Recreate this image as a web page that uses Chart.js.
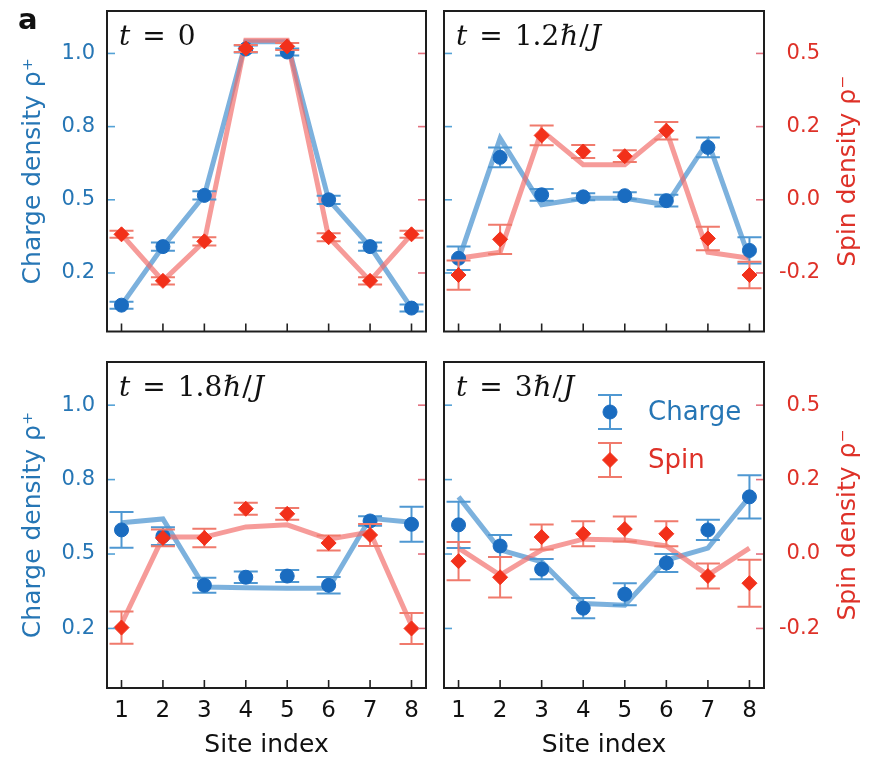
<!DOCTYPE html>
<html><head><meta charset="utf-8">
<script src="https://cdn.jsdelivr.net/npm/chart.js@4.4.0/dist/chart.umd.min.js"></script>
<style>
html,body{margin:0;padding:0;background:#fff;}
#wrap{position:relative;width:869px;height:762px;overflow:hidden;background:#fff;}
canvas{position:absolute;}
</style></head><body>
<div id="wrap">
<canvas id="c1" width="435" height="340" style="left:0;top:0"></canvas>
<canvas id="c2" width="434" height="340" style="left:435px;top:0"></canvas>
<canvas id="c3" width="435" height="422" style="left:0;top:340px"></canvas>
<canvas id="c4" width="434" height="422" style="left:435px;top:340px"></canvas>
</div>
<script>
// ---------- data ----------
const sites = [1, 2, 3, 4, 5, 6, 7, 8];
const chargeTicks = [0.25, 0.5, 0.75, 1.0];
const chargeTickLabels = ['0.2', '0.5', '0.8', '1.0'];
const spinTicks = [-0.25, 0, 0.25, 0.5];
const spinTickLabels = ['-0.2', '0.0', '0.2', '0.5'];
const panelTimes = ['0', '1.2', '1.8', '3'];

// t = 0
const charge0    = [0.14, 0.34, 0.515, 1.015, 1.005, 0.50, 0.34, 0.13];
const chargeErr0 = [0.012, 0.014, 0.014, 0.012, 0.012, 0.014, 0.014, 0.012];
const chargeTh0  = [0.14, 0.34, 0.515, 1.04, 1.04, 0.50, 0.34, 0.13];
const spin0      = [-0.118, -0.277, -0.142, 0.517, 0.524, -0.128, -0.277, -0.118];
const spinErr0   = [0.012, 0.012, 0.014, 0.012, 0.012, 0.014, 0.012, 0.012];
const spinTh0    = [-0.118, -0.277, -0.142, 0.545, 0.545, -0.128, -0.277, -0.118];

// t = 1.2 hbar/J
const charge1    = [0.30, 0.645, 0.517, 0.51, 0.514, 0.497, 0.679, 0.327];
const chargeErr1 = [0.04, 0.034, 0.02, 0.012, 0.012, 0.02, 0.034, 0.045];
const chargeTh1  = [0.294, 0.71, 0.483, 0.505, 0.505, 0.483, 0.70, 0.30];
const spin1      = [-0.257, -0.135, 0.22, 0.165, 0.149, 0.236, -0.132, -0.257];
const spinErr1   = [0.05, 0.05, 0.034, 0.022, 0.02, 0.03, 0.04, 0.045];
const spinTh1    = [-0.20, -0.179, 0.237, 0.12, 0.12, 0.237, -0.179, -0.20];

// t = 1.8 hbar/J
const charge2    = [0.581, 0.56, 0.395, 0.422, 0.426, 0.395, 0.611, 0.60];
const chargeErr2 = [0.06, 0.03, 0.025, 0.019, 0.02, 0.028, 0.016, 0.059];
const chargeTh2  = [0.605, 0.618, 0.389, 0.387, 0.385, 0.385, 0.62, 0.607];
const spin2      = [-0.247, 0.054, 0.054, 0.152, 0.135, 0.037, 0.064, -0.25];
const spinErr2   = [0.054, 0.028, 0.031, 0.02, 0.02, 0.025, 0.037, 0.052];
const spinTh2    = [-0.235, 0.057, 0.057, 0.091, 0.098, 0.05, 0.074, -0.24];

// t = 3 hbar/J
const charge3    = [0.598, 0.527, 0.449, 0.318, 0.365, 0.47, 0.581, 0.692];
const chargeErr3 = [0.078, 0.037, 0.034, 0.034, 0.037, 0.03, 0.034, 0.073];
const chargeTh3  = [0.692, 0.514, 0.474, 0.334, 0.328, 0.48, 0.52, 0.692];
const spin3      = [-0.024, -0.078, 0.057, 0.068, 0.084, 0.068, -0.074, -0.098];
const spinErr3   = [0.064, 0.068, 0.042, 0.042, 0.042, 0.042, 0.042, 0.079];
const spinTh3    = [0.02, -0.071, 0.014, 0.05, 0.047, 0.027, -0.071, 0.02];

// ---------- style ----------
const SANS = '"DejaVu Sans", "Noto Sans", sans-serif';
const SERIF = '"DejaVu Serif", "Liberation Serif", serif';
const BLUE_TXT = '#2676b5', BLUE_MK = '#1a6cc0', BLUE_ERR = '#4f98d2', BLUE_LINE = 'rgba(62,140,205,0.68)', BLUE_TICK = '#55a2d6';
const RED_TXT = '#de3128', RED_MK = '#f2301a', RED_ERR = '#f07a6c', RED_LINE = 'rgba(242,108,104,0.68)', RED_TICK = '#e2707e';

const pts = arr => arr.map((v, i) => ({x: sites[i], y: v}));

const errorBarPlugin = {
  id: 'errbars',
  beforeDatasetDraw(chart, args) {
    const ds = chart.data.datasets[args.index];
    if (!ds.errors) return;
    const ys = chart.scales[ds.yAxisID], xs = chart.scales.x, ctx = chart.ctx;
    ctx.save();
    ctx.strokeStyle = ds.errorColor; ctx.lineWidth = 2;
    ds.data.forEach((d, i) => {
      const x = xs.getPixelForValue(d.x);
      const y1 = ys.getPixelForValue(d.y - ds.errors[i]);
      const y2 = ys.getPixelForValue(d.y + ds.errors[i]);
      ctx.beginPath();
      ctx.moveTo(x, y1); ctx.lineTo(x, y2);
      ctx.moveTo(x - 12, y1); ctx.lineTo(x + 12, y1);
      ctx.moveTo(x - 12, y2); ctx.lineTo(x + 12, y2);
      ctx.stroke();
    });
    ctx.restore();
  }
};

function drawSegments(ctx, segs, x, y) {
  segs.forEach(s => {
    ctx.font = s[1] + ' 28px ' + SERIF;
    ctx.fillText(s[0], x, y);
    x += ctx.measureText(s[0]).width + (s[2] || 0);
  });
}

const decorPlugin = {
  id: 'decor',
  afterDraw(chart, args, o) {
    const ctx = chart.ctx, a = chart.chartArea;
    ctx.save();
    // inner ticks
    ctx.lineWidth = 1.6;
    ctx.strokeStyle = BLUE_TICK;
    chart.scales.yC.ticks.forEach(t => {
      const y = chart.scales.yC.getPixelForValue(t.value);
      ctx.beginPath(); ctx.moveTo(a.left, y); ctx.lineTo(a.left + 8, y); ctx.stroke();
    });
    ctx.strokeStyle = RED_TICK;
    chart.scales.yS.ticks.forEach(t => {
      const y = chart.scales.yS.getPixelForValue(t.value);
      ctx.beginPath(); ctx.moveTo(a.right - 8, y); ctx.lineTo(a.right, y); ctx.stroke();
    });
    ctx.strokeStyle = '#222';
    chart.scales.x.ticks.forEach(t => {
      const x = chart.scales.x.getPixelForValue(t.value);
      ctx.beginPath(); ctx.moveTo(x, a.bottom - 8); ctx.lineTo(x, a.bottom); ctx.stroke();
    });
    // frame
    ctx.lineWidth = 2; ctx.strokeStyle = '#1e1e1e';
    ctx.strokeRect(a.left, a.top, a.right - a.left, a.bottom - a.top);
    // panel title
    ctx.fillStyle = '#111'; ctx.textBaseline = 'alphabetic'; ctx.textAlign = 'left';
    const segs = o.time === '0'
      ? [['t', 'italic', 12], ['=', 'normal', 12], ['0', 'normal']]
      : [['t', 'italic', 12], ['=', 'normal', 12], [o.time, 'normal', 1], ['ℏ', 'italic', 1], ['/', 'normal', 1], ['J', 'italic']];
    drawSegments(ctx, segs, a.left + 12, a.top + 34);
    // panel letter
    if (o.letter) {
      ctx.font = 'bold 29px ' + SANS; ctx.fillStyle = '#111';
      ctx.fillText(o.letter, 18, 29);
    }
    // right axis title (reads bottom to top)
    if (o.rightTitle) {
      ctx.save();
      ctx.translate(a.right + 84, (a.top + a.bottom) / 2);
      ctx.rotate(-Math.PI / 2);
      ctx.font = '25px ' + SANS; ctx.fillStyle = RED_TXT;
      ctx.textAlign = 'center'; ctx.textBaseline = 'middle';
      ctx.fillText('Spin density ρ⁻', 0, 0);
      ctx.restore();
    }
    // legend
    if (o.legend) {
      const lx = a.left + 166, tx = a.left + 204;
      const items = [[a.top + 50, BLUE_ERR, BLUE_MK, BLUE_TXT, 'circle', 'Charge'],
                     [a.top + 98, RED_ERR, RED_MK, RED_TXT, 'rectRot', 'Spin']];
      items.forEach(it => {
        const [y, ec, mc, tc, st, label] = it;
        ctx.strokeStyle = ec; ctx.lineWidth = 2;
        ctx.beginPath();
        ctx.moveTo(lx, y - 17); ctx.lineTo(lx, y + 17);
        ctx.moveTo(lx - 12, y - 17); ctx.lineTo(lx + 12, y - 17);
        ctx.moveTo(lx - 12, y + 17); ctx.lineTo(lx + 12, y + 17);
        ctx.stroke();
        ctx.fillStyle = mc; ctx.strokeStyle = mc; ctx.lineWidth = 1;
        Chart.helpers.drawPoint(ctx, {pointStyle: st, radius: st === 'circle' ? 7 : 7.5, borderWidth: 1}, lx, y);
        ctx.fillStyle = tc; ctx.font = '26px ' + SANS; ctx.textBaseline = 'middle'; ctx.textAlign = 'left';
        ctx.fillText(label, tx, y + 1);
      });
    }
    ctx.restore();
  }
};

const zeroPad = s => { s.paddingTop = 0; s.paddingBottom = 0; s.paddingLeft = 0; s.paddingRight = 0; };

function makeChart(id, p) {
  return new Chart(document.getElementById(id), {
    type: 'line',
    data: {datasets: [
      {label: 'Spin', data: pts(p.spin), yAxisID: 'yS', showLine: false, order: 0,
       pointStyle: 'rectRot', pointRadius: 7.5, pointBackgroundColor: RED_MK, pointBorderColor: RED_MK, pointBorderWidth: 1,
       borderColor: RED_MK, backgroundColor: RED_MK, errors: p.spinErr, errorColor: RED_ERR},
      {label: 'Charge', data: pts(p.charge), yAxisID: 'yC', showLine: false, order: 1,
       pointStyle: 'circle', pointRadius: 7, pointBackgroundColor: BLUE_MK, pointBorderColor: BLUE_MK, pointBorderWidth: 1,
       borderColor: BLUE_MK, backgroundColor: BLUE_MK, errors: p.chargeErr, errorColor: BLUE_ERR},
      {label: 'Spin theory', data: pts(p.spinTh), yAxisID: 'yS', order: 2,
       borderColor: RED_LINE, borderWidth: 5, pointRadius: 0, tension: 0, fill: false},
      {label: 'Charge theory', data: pts(p.chargeTh), yAxisID: 'yC', order: 3,
       borderColor: BLUE_LINE, borderWidth: 5, pointRadius: 0, tension: 0, fill: false}
    ]},
    options: {
      responsive: false, animation: false, devicePixelRatio: 1,
      layout: {padding: {top: p.padTop, right: p.padRight, left: 0, bottom: 0}},
      events: [],
      plugins: {
        legend: {display: false}, tooltip: {enabled: false},
        decor: {time: p.time, letter: p.letter || '', rightTitle: p.right, legend: !!p.legend}
      },
      scales: {
        x: {
          type: 'linear', min: 0.65, max: 8.35,
          afterBuildTicks: s => { s.ticks = sites.map(v => ({value: v})); },
          afterFit: s => { s.height = p.bottom ? 74 : 5; zeroPad(s); },
          grid: {display: false, drawTicks: false}, border: {display: false},
          ticks: {display: p.bottom, color: '#111', padding: 9, font: {family: SANS, size: 23}, callback: v => String(v)},
          title: {display: p.bottom, text: 'Site index', color: '#111', font: {family: SANS, size: 25}, padding: {top: 0, bottom: 2}}
        },
        yC: {
          type: 'linear', position: 'left', min: 0.05, max: 1.145,
          afterBuildTicks: s => { s.ticks = chargeTicks.map(v => ({value: v})); },
          afterFit: s => { s.width = p.left ? 107 : 9; zeroPad(s); },
          grid: {display: false, drawTicks: false}, border: {display: false},
          ticks: {display: p.left, color: BLUE_TXT, padding: 12, font: {family: SANS, size: 21},
                  callback: v => chargeTickLabels[chargeTicks.indexOf(v)]},
          title: {display: p.left, text: 'Charge density ρ⁺', color: BLUE_TXT, font: {family: SANS, size: 25}, padding: {top: 18, bottom: 0}}
        },
        yS: {
          type: 'linear', position: 'right', min: -0.45, max: 0.645,
          afterBuildTicks: s => { s.ticks = spinTicks.map(v => ({value: v})); },
          afterFit: s => { s.width = p.right ? 56 : 9; zeroPad(s); },
          grid: {display: false, drawTicks: false}, border: {display: false},
          ticks: {display: p.right, color: RED_TXT, padding: 12, crossAlign: 'far', font: {family: SANS, size: 21},
                  callback: v => spinTickLabels[spinTicks.indexOf(v)]}
        }
      }
    },
    plugins: [errorBarPlugin, decorPlugin]
  });
}

makeChart('c1', {time: panelTimes[0], letter: 'a', left: true, right: false, bottom: false, padTop: 11, padRight: 0,
  charge: charge0, chargeErr: chargeErr0, chargeTh: chargeTh0, spin: spin0, spinErr: spinErr0, spinTh: spinTh0});
makeChart('c2', {time: panelTimes[1], left: false, right: true, bottom: false, padTop: 11, padRight: 49,
  charge: charge1, chargeErr: chargeErr1, chargeTh: chargeTh1, spin: spin1, spinErr: spinErr1, spinTh: spinTh1});
makeChart('c3', {time: panelTimes[2], left: true, right: false, bottom: true, padTop: 22, padRight: 0,
  charge: charge2, chargeErr: chargeErr2, chargeTh: chargeTh2, spin: spin2, spinErr: spinErr2, spinTh: spinTh2});
makeChart('c4', {time: panelTimes[3], left: false, right: true, bottom: true, padTop: 22, padRight: 49, legend: true,
  charge: charge3, chargeErr: chargeErr3, chargeTh: chargeTh3, spin: spin3, spinErr: spinErr3, spinTh: spinTh3});
</script>
</body></html>
